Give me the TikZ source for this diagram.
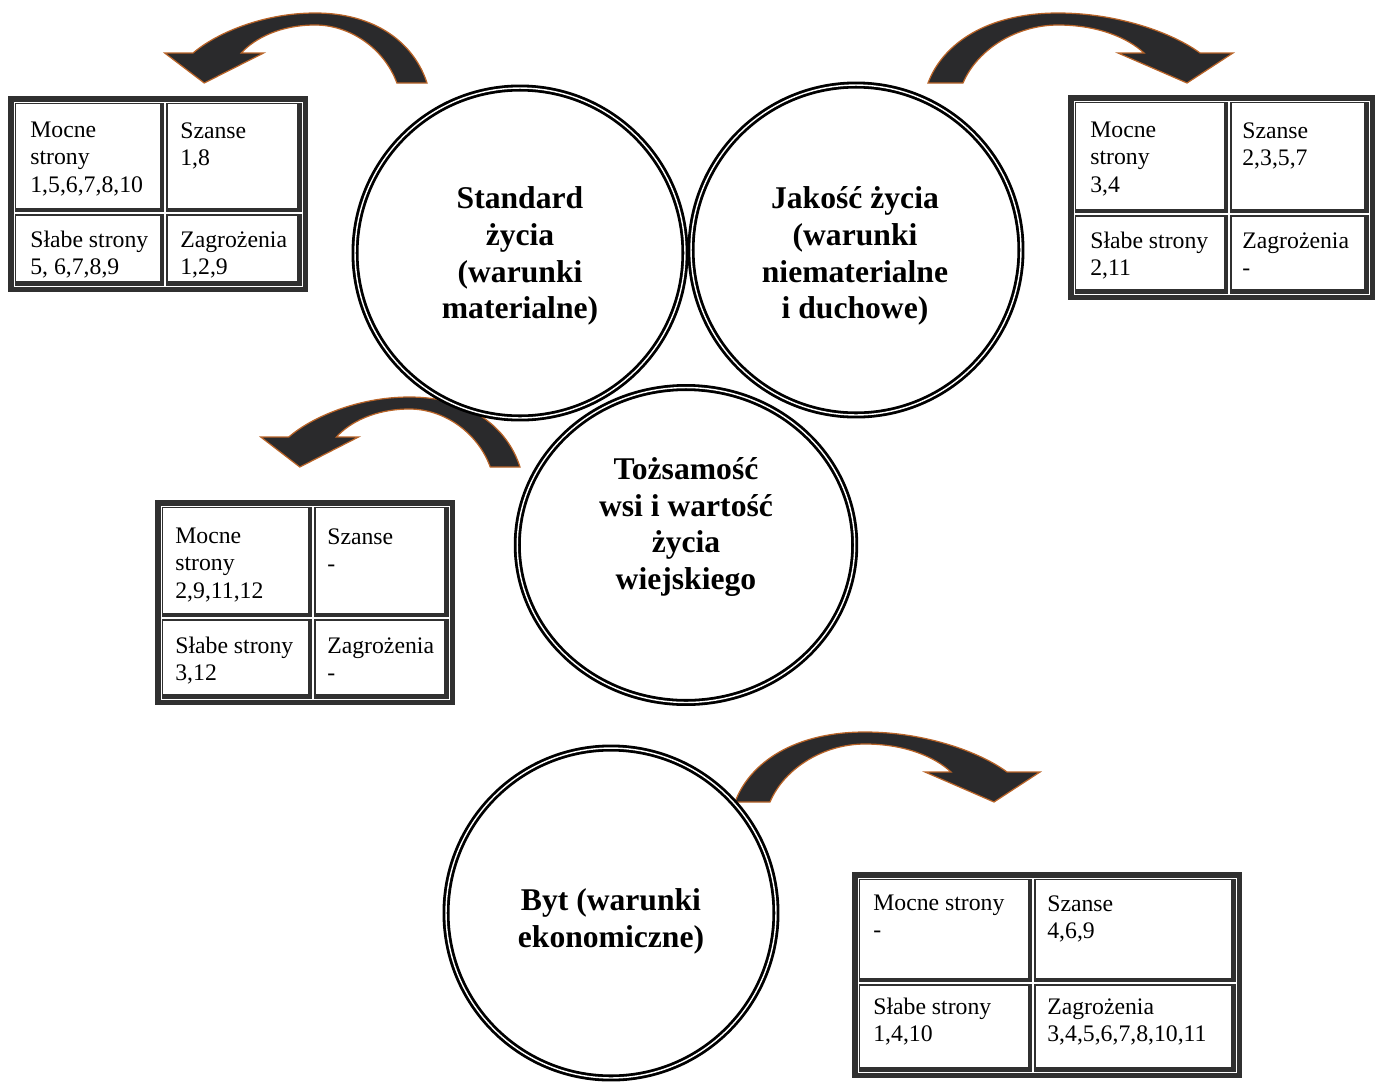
\documentclass[tikz,border=0pt]{standalone}
\usepackage{fontspec}
\setmainfont{Liberation Serif}
\usepackage{xcolor}
\usetikzlibrary{shapes.geometric}
\definecolor{frameGray}{RGB}{48,48,48}
\definecolor{arrowDark}{RGB}{42,42,44}
\definecolor{arrowEdge}{RGB}{185,100,40}

\tikzset{
  ring/.style={ellipse,draw=black,line width=1.6pt,double=white,double distance=0.8pt,minimum width=6.6cm,minimum height=6.6cm,inner sep=0pt},
  circtext/.style={font=\fontsize{18}{21}\selectfont\bfseries,align=center},
  celltext/.style={font=\fontsize{13.5}{15.4}\selectfont,align=left,anchor=north west,inner sep=0pt},
  bigarrow/.pic={
    \path[fill=arrowDark,draw=arrowEdge,line width=0.7pt]
      (0,0) .. controls (15,-40) and (60,-70) .. (130,-70)
      .. controls (190,-70) and (245,-50) .. (272,-30)
      -- (305,-30) -- (259,0) -- (190,-30) -- (216,-30)
      .. controls (200,-45) and (170,-58) .. (130,-58)
      .. controls (90,-58) and (50,-35) .. (35,0) -- cycle;
  }
}

% one cell: dark rim, white inside
\newcommand{\swotcell}[4]{%
  \fill[frameGray] (#1,#2) rectangle (#3,#4);
  \fill[white] ({#1+1.5},{#2+1.5}) rectangle ({#3-4.5},{#4-4.5});
}
% whole table: x1,y1,x2,y2, column split, row split
\newcommand{\swotframe}[6]{%
  \fill[frameGray] (#1,#2) rectangle (#3,#4);
  \fill[white] ({#1+5.5},{#2+5.5}) rectangle ({#3-5.5},{#4-5.5});
  \swotcell{#1+6.5}{#2+6.5}{#5-1}{#6-1}
  \swotcell{#5+1}{#2+6.5}{#3-6.5}{#6-1}
  \swotcell{#1+6.5}{#6+1}{#5-1}{#4-6.5}
  \swotcell{#5+1}{#6+1}{#3-6.5}{#4-6.5}
}

\begin{document}
\begin{tikzpicture}[x=0.02cm,y=-0.02cm]
  \useasboundingbox (0,0) rectangle (1377,1086);

  % Arrows
  \pic (arrA) [xscale=-0.86] at (427,83) {bigarrow};
  \pic (arrB) at (928,83) {bigarrow};
  \pic (arrC) [xscale=-0.85] at (520,467) {bigarrow};
  \pic (arrD) at (735,802) {bigarrow};

  % Circles
  \node[ring] (standard) at (520,253) {};
  \node[ring] (jakosc) at (856,250) {};
  \node[ring,minimum width=6.75cm,minimum height=6.3cm] (tozsamosc) at (686,545) {};
  \node[ring] (byt) at (611,913) {};

  \node[circtext] (standardT) at (520,256) {Standard\\życia\\(warunki\\materialne)};
  \node[circtext] (jakoscT) at (855,256) {Jakość życia\\(warunki\\niematerialne\\i duchowe)};
  \node[circtext] (tozsamoscT) at (686,527) {Tożsamość\\wsi i wartość\\życia\\wiejskiego};
  \node[circtext] (bytT) at (611,921) {Byt (warunki\\ekonomiczne)};

  % Table: standard zycia
  \swotframe{8}{96}{308}{292}{165}{213}
  \node[celltext] (s1) at (30,122) {Mocne\\strony\\1,5,6,7,8,10};
  \node[celltext] (o1) at (180,122) {Szanse\\1,8};
  \node[celltext] (w1) at (30,231) {Słabe strony\\5, 6,7,8,9};
  \node[celltext] (t1) at (180,231) {Zagrożenia\\1,2,9};

  % Table: jakosc zycia
  \swotframe{1068}{95}{1375}{300}{1229}{214}
  \node[celltext] (s2) at (1090,122) {Mocne\\strony\\3,4};
  \node[celltext] (o2) at (1242,122) {Szanse\\2,3,5,7};
  \node[celltext] (w2) at (1090,232) {Słabe strony\\2,11};
  \node[celltext] (t2) at (1242,232) {Zagrożenia\\-};

  % Table: tozsamosc
  \swotframe{155}{500}{455}{705}{313}{618}
  \node[celltext] (s3) at (175,528) {Mocne\\strony\\2,9,11,12};
  \node[celltext] (o3) at (327,528) {Szanse\\-};
  \node[celltext] (w3) at (175,637) {Słabe strony\\3,12};
  \node[celltext] (t3) at (327,637) {Zagrożenia\\-};

  % Table: byt
  \swotframe{852}{872}{1242}{1078}{1033}{983}
  \node[celltext] (s4) at (873,895) {Mocne strony\\-};
  \node[celltext] (o4) at (1047,895) {Szanse\\4,6,9};
  \node[celltext] (w4) at (873,998) {Słabe strony\\1,4,10};
  \node[celltext] (t4) at (1047,998) {Zagrożenia\\3,4,5,6,7,8,10,11};
\end{tikzpicture}
\end{document}
